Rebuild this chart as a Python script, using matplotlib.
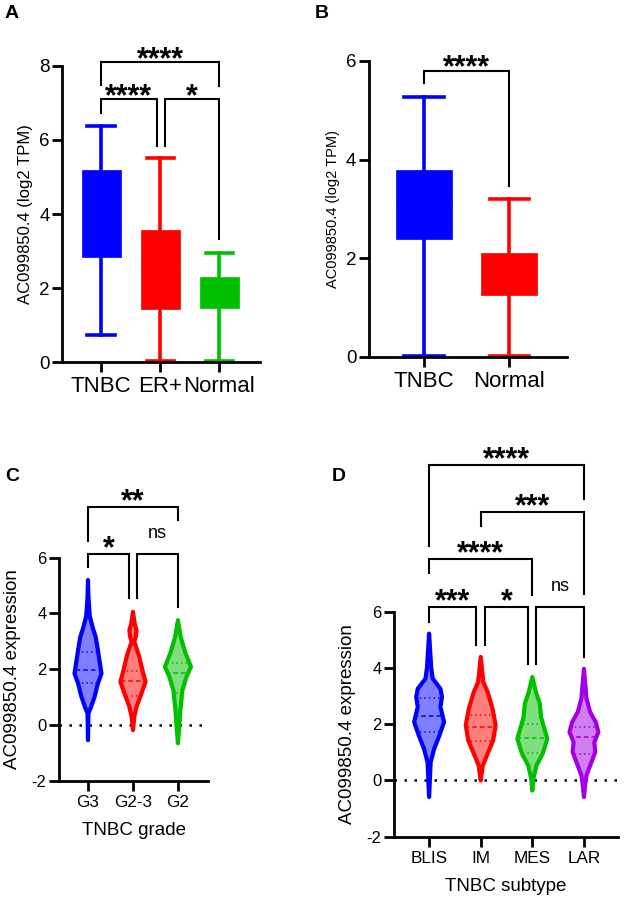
import matplotlib
matplotlib.use('Agg')
import matplotlib.pyplot as plt
import numpy as np

plt.rcParams['font.family'] = ['Liberation Sans', 'DejaVu Sans']
plt.rcParams['axes.unicode_minus'] = False

BLUE, RED, GREEN, PURPLE = '#0000FF', '#FF0000', '#00C000', '#A100E0'

# ---- panel A: box plot (log2 TPM)
a_groups = ['TNBC', 'ER+', 'Normal']
a_whislo = [0.72, 0.02, 0.02]
a_q1 = [2.83, 1.43, 1.47]
a_med = [4.0, 2.5, 1.9]
a_q3 = [5.20, 3.58, 2.30]
a_whishi = [6.38, 5.50, 2.95]
a_colors = [BLUE, RED, GREEN]

# ---- panel B
b_groups = ['TNBC', 'Normal']
b_whislo = [0.02, 0.02]
b_q1 = [2.40, 1.25]
b_med = [3.1, 1.7]
b_q3 = [3.80, 2.10]
b_whishi = [5.27, 3.20]
b_colors = [BLUE, RED]

# ---- panel C: violin outlines (level, half width) per grade
c_groups = ['G3', 'G2-3', 'G2']
c_colors = [BLUE, RED, GREEN]
c_levels = [
    [-0.54, 0.42, 0.66, 1.01, 1.49, 1.85, 2.27, 2.69, 3.17, 3.47, 3.9, 4.6, 5.2],
    [-0.18, 0.30, 0.66, 1.14, 1.55, 1.97, 2.51, 2.99, 3.15, 3.40, 3.62, 4.06],
    [-0.65, -0.06, 0.54, 1.25, 1.73, 2.09, 2.57, 3.17, 3.76],
]
c_widths = [
    [0, 0.01, 0.07, 0.145, 0.22, 0.30, 0.26, 0.22, 0.17, 0.11, 0.04, 0.01, 0],
    [0, 0.03, 0.08, 0.19, 0.28, 0.21, 0.13, 0.03, 0.06, 0.08, 0.04, 0],
    [0, 0.03, 0.055, 0.10, 0.19, 0.29, 0.17, 0.06, 0],
]
c_quart = [(1.52, 1.97, 2.63), (1.04, 1.58, 1.95), (1.16, 1.88, 2.21)]

# ---- panel D: violins per subtype
d_groups = ['BLIS', 'IM', 'MES', 'LAR']
d_colors = [BLUE, RED, GREEN, PURPLE]
d_levels = [
    [-0.59, 0.65, 1.13, 1.60, 2.08, 2.61, 2.97, 3.26, 3.62, 4.03, 5.22],
    [0.0, 0.53, 0.89, 1.42, 1.96, 2.55, 3.14, 3.50, 4.39],
    [-0.36, 0.06, 0.53, 0.95, 1.48, 2.25, 2.73, 3.14, 3.68],
    [-0.59, -0.06, 0.18, 0.53, 1.01, 1.36, 1.72, 2.07, 2.43, 2.91, 3.97],
]
d_widths = [
    [0, 0.03, 0.10, 0.20, 0.29, 0.22, 0.25, 0.22, 0.07, 0.04, 0],
    [0, 0.04, 0.12, 0.24, 0.29, 0.23, 0.135, 0.05, 0],
    [0, 0.02, 0.08, 0.20, 0.29, 0.17, 0.145, 0.07, 0],
    [0, 0.03, 0.05, 0.12, 0.22, 0.20, 0.28, 0.23, 0.12, 0.05, 0],
]
d_quart = [(1.74, 2.29, 2.94), (1.42, 1.90, 2.34), (0.99, 1.51, 2.02), (0.95, 1.53, 1.90)]

# significance brackets: (left, right, left shift, right shift, top, left end, right end, label)
a_sig = [(0, 2, 0, 0, 8.11, 7.49, 7.46, '****'),
         (0, 1, 0, -0.06, 7.11, 6.73, 5.84, '****'),
         (1, 2, 0.08, 0, 7.11, 5.84, 3.32, '*')]
b_sig = [(0, 1, 0, 0, 5.80, 5.55, 3.47, '****')]
c_sig = [(0, 2, 0, 0, 7.82, 6.60, 7.35, '**'),
         (0, 1, 0, -0.09, 6.12, 5.66, 4.54, '*'),
         (1, 2, 0.09, 0, 6.12, 4.54, 4.24, 'ns')]
d_sig = [(0, 3, 0, 0, 11.21, 8.33, 10.02, '****'),
         (1, 3, 0, 0, 9.55, 9.04, 6.64, '***'),
         (0, 2, 0, 0, 7.86, 7.36, 6.61, '****'),
         (0, 1, 0, -0.085, 6.17, 5.63, 4.83, '***'),
         (1, 2, 0.08, -0.085, 6.17, 4.83, 4.13, '*'),
         (2, 3, 0.08, 0, 6.17, 4.13, 4.39, 'ns')]


def style_axes(ax, xfs, yfs, tick_len=7):
    for s in ['top', 'right']:
        ax.spines[s].set_visible(False)
    for s in ['left', 'bottom']:
        ax.spines[s].set_linewidth(2.0)
    ax.tick_params(width=2.0, length=tick_len, pad=2)
    ax.tick_params(axis='x', labelsize=xfs, pad=3)
    ax.tick_params(axis='y', labelsize=yfs)


def add_sig(ax, sig, gap_px):
    for i, j, di, dj, top, yl, yr, lab in sig:
        x1, x2 = i + di, j + dj
        ax.plot([x1, x1, x2, x2], [yl, top, top, yr], color='black', lw=1.5,
                clip_on=False, solid_joinstyle='miter')
        if lab == 'ns':
            ax.annotate(lab, ((x1 + x2) / 2, top), xytext=(0, gap_px * 0.72 + 1),
                        textcoords='offset points', ha='center', va='baseline',
                        fontsize=13, annotation_clip=False)
        else:
            ax.annotate(lab, ((x1 + x2) / 2, top), xytext=(0, gap_px * 0.72 - 13),
                        textcoords='offset points', ha='center', va='baseline',
                        fontsize=22, fontweight='bold', annotation_clip=False)


def boxes(ax, lo, q1, med, q3, hi, colors):
    stats = [dict(whislo=lo[k], q1=q1[k], med=med[k], q3=q3[k], whishi=hi[k])
             for k in range(len(lo))]
    for k, st in enumerate(stats):
        c = colors[k]
        ax.bxp([st], positions=[k], widths=0.66, showfliers=False, patch_artist=True,
               boxprops=dict(facecolor=c, edgecolor=c, linewidth=0.5),
               medianprops=dict(color=c, linewidth=1),
               whiskerprops=dict(color=c, linewidth=2.6),
               capprops=dict(color=c, linewidth=2.6), capwidths=0.46)


def violins(ax, levels, widths, quarts, colors):
    for k in range(len(levels)):
        y = np.array(levels[k])
        w = np.array(widths[k])
        xs = np.concatenate([k - w, (k + w)[::-1]])
        ys = np.concatenate([y, y[::-1]])
        c = colors[k]
        patch = ax.fill(xs, ys, facecolor=c, alpha=0.5, edgecolor='none', zorder=2)[0]
        ax.fill(xs, ys, facecolor='none', edgecolor=c, lw=3.0, zorder=3,
                joinstyle='round')
        q1, qm, q3 = quarts[k]
        for q, ls in [(q1, (0, (1, 2))), (qm, (0, (3, 2))), (q3, (0, (1, 2)))]:
            ln, = ax.plot([k - 0.45, k + 0.45], [q, q], color=c, lw=1.1, ls=ls, zorder=2.5)
            ln.set_clip_path(patch)


fig = plt.figure(figsize=(6.24, 8.99), dpi=100)

# A
ax = fig.add_axes([0.0994, 0.5973, 0.3173, 0.3293])
boxes(ax, a_whislo, a_q1, a_med, a_q3, a_whishi, a_colors)
ax.set_xlim(-0.66, 2.69)
ax.set_ylim(0, 8)
ax.set_yticks([0, 2, 4, 6, 8])
ax.set_xticks(range(3))
ax.set_xticklabels(a_groups)
style_axes(ax, 16, 13.5)
ax.set_ylabel('AC099850.4 (log2 TPM)', fontsize=12, labelpad=4)
add_sig(ax, a_sig, 12)
fig.text(0.008, 0.985, 'A', fontsize=14, fontweight='bold', va='center')

# B
ax = fig.add_axes([0.5913, 0.6029, 0.3173, 0.3293])
boxes(ax, b_whislo, b_q1, b_med, b_q3, b_whishi, b_colors)
ax.set_xlim(-0.647, 1.68)
ax.set_ylim(0, 6)
ax.set_yticks([0, 2, 4, 6])
ax.set_xticks(range(2))
ax.set_xticklabels(b_groups)
style_axes(ax, 16, 13.5)
ax.set_ylabel('AC099850.4 (log2 TPM)', fontsize=10.5, labelpad=4)
add_sig(ax, b_sig, 12.7)
fig.text(0.505, 0.985, 'B', fontsize=14, fontweight='bold', va='center')

# C
ax = fig.add_axes([0.0946, 0.1313, 0.2388, 0.2484])
violins(ax, c_levels, c_widths, c_quart, c_colors)
ax.axhline(0, color='black', lw=1.8, ls=(0, (1, 3)), zorder=1)
ax.set_xlim(-0.644, 2.67)
ax.set_ylim(-2, 6)
ax.set_yticks([-2, 0, 2, 4, 6])
ax.set_xticks(range(3))
ax.set_xticklabels(c_groups)
style_axes(ax, 12.3, 12)
ax.set_ylabel('AC099850.4 expression', fontsize=13.5, labelpad=8)
ax.set_xlabel('TNBC grade', fontsize=13.5, labelpad=9)
add_sig(ax, c_sig, 15)
fig.text(0.008, 0.4705, 'C', fontsize=14, fontweight='bold', va='center')

# D
ax = fig.add_axes([0.6314, 0.0693, 0.3590, 0.2503])
violins(ax, d_levels, d_widths, d_quart, d_colors)
ax.axhline(0, color='black', lw=1.8, ls=(0, (1, 3)), zorder=1)
ax.set_xlim(-0.68, 3.66)
ax.set_ylim(-2, 6)
ax.set_yticks([-2, 0, 2, 4, 6])
ax.set_xticks(range(4))
ax.set_xticklabels(d_groups)
style_axes(ax, 12.3, 12)
ax.set_ylabel('AC099850.4 expression', fontsize=13.5, labelpad=8)
ax.set_xlabel('TNBC subtype', fontsize=13.5, labelpad=9)
add_sig(ax, d_sig, 15)
fig.text(0.532, 0.4705, 'D', fontsize=14, fontweight='bold', va='center')

fig.savefig('out.png', dpi=100)
